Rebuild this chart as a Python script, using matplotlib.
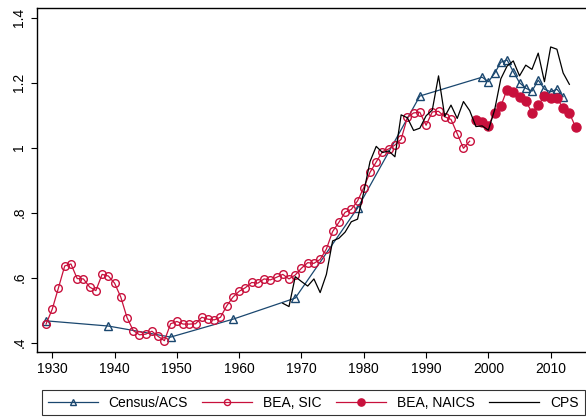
import numpy as np
import matplotlib
matplotlib.use('Agg')
import matplotlib.pyplot as plt

plt.rcParams['font.family'] = ['Liberation Sans', 'DejaVu Sans']
plt.rcParams['font.size'] = 10

# Census / ACS
census_years = [1929, 1939, 1949, 1959, 1969, 1979, 1989, 1999, 2000, 2001, 2002,
                2003, 2004, 2005, 2006, 2007, 2008, 2009, 2010, 2011, 2012]
census_vals = [0.467, 0.451, 0.417, 0.472, 0.537, 0.814, 1.159, 1.217, 1.203, 1.229, 1.263,
               1.270, 1.234, 1.200, 1.183, 1.174, 1.208, 1.180, 1.172, 1.180, 1.157]

# BEA, SIC
sic_years = list(range(1929, 1998))
sic_vals = [0.457, 0.503, 0.569, 0.636, 0.642, 0.597, 0.596, 0.571, 0.560, 0.610,
            0.605, 0.583, 0.540, 0.477, 0.437, 0.424, 0.426, 0.435, 0.419, 0.406,
            0.458, 0.465, 0.457, 0.457, 0.458, 0.478, 0.472, 0.470, 0.478, 0.513,
            0.540, 0.558, 0.569, 0.585, 0.583, 0.596, 0.593, 0.601, 0.610, 0.596,
            0.608, 0.629, 0.646, 0.644, 0.656, 0.688, 0.742, 0.770, 0.801, 0.810,
            0.836, 0.877, 0.924, 0.956, 0.988, 0.996, 1.008, 1.026, 1.093, 1.107,
            1.109, 1.069, 1.110, 1.112, 1.095, 1.087, 1.043, 0.998, 1.020]

# BEA, NAICS
naics_years = list(range(1998, 2015))
naics_vals = [1.084, 1.080, 1.068, 1.108, 1.128, 1.179, 1.171, 1.155, 1.144, 1.108,
              1.131, 1.159, 1.152, 1.152, 1.122, 1.107, 1.063]

# CPS
cps_years = list(range(1967, 2014))
cps_vals = [0.521, 0.511, 0.603, 0.588, 0.574, 0.596, 0.554, 0.610, 0.713, 0.721,
            0.740, 0.772, 0.780, 0.863, 0.957, 1.004, 0.985, 0.990, 0.972, 1.101,
            1.092, 1.053, 1.060, 1.098, 1.116, 1.221, 1.096, 1.131, 1.090, 1.142,
            1.114, 1.065, 1.067, 1.054, 1.116, 1.212, 1.251, 1.267, 1.221, 1.254,
            1.241, 1.291, 1.203, 1.310, 1.303, 1.230, 1.195]

navy = '#1a476f'
red = '#c8103c'

fig = plt.figure(figsize=(5.86, 4.17), dpi=100)
ax = fig.add_axes([0.0626, 0.1566, 0.9374, 0.8235])

ax.plot(census_years, census_vals, color=navy, lw=0.9, marker='^', ms=5.5,
        mfc='none', mec=navy, mew=1.0, label='Census/ACS')
ax.plot(sic_years, sic_vals, color=red, lw=0.9, marker='o', ms=5.5,
        mfc='none', mec=red, mew=1.0, label='BEA, SIC')
ax.plot(naics_years, naics_vals, color=red, lw=0.9, marker='o', ms=6.5,
        mfc=red, mec=red, label='BEA, NAICS')
ax.plot(cps_years, cps_vals, color='black', lw=0.9, label='CPS')

ax.set_xlim(1927.5, 2015.67)
ax.set_ylim(0.372, 1.429)
ax.set_xticks(range(1930, 2011, 10))
ax.set_yticks([0.4, 0.6, 0.8, 1.0, 1.2, 1.4])
ax.set_yticklabels(['.4', '.6', '.8', '1', '1.2', '1.4'], rotation=90, va='center')
ax.tick_params(direction='out', length=4, width=0.8, labelsize=10)
ax.spines['right'].set_visible(False)
for s in ['left', 'bottom', 'top']:
    ax.spines[s].set_linewidth(1.0)

handles, labels = ax.get_legend_handles_labels()
leg = fig.legend(handles, labels, loc='lower left', ncol=4, mode='expand',
                 bbox_to_anchor=(0.0717, 0.004, 0.926, 0.066), frameon=True,
                 fancybox=False, edgecolor='black', handlelength=3.6,
                 borderaxespad=0, markerscale=0.8, fontsize=10)
leg.get_frame().set_linewidth(0.8)

fig.savefig('out.png', dpi=100)
